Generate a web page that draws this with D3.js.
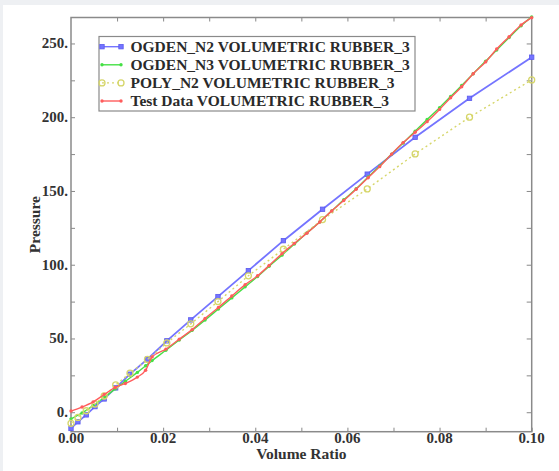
<!DOCTYPE html>
<html>
<head>
<meta charset="utf-8">
<script src="https://cdn.jsdelivr.net/npm/d3@7/dist/d3.min.js"></script>
<style>
  html, body { margin: 0; padding: 0; background: #eef0f3; }
  #chart { width: 559px; height: 471px; }
</style>
</head>
<body>
<div id="chart"></div>
<script>
// Model curves share these volume ratios
var modelX = [0, 0.0015, 0.0033, 0.0052, 0.0072, 0.0097, 0.0128, 0.0166, 0.0208, 0.026, 0.0319, 0.0385, 0.0461, 0.0546, 0.0643, 0.0747, 0.0865, 0.1];
var ogdenN2 = [-11, -6.5, -1.8, 3.8, 9.0, 16.5, 25.8, 36, 48.4, 62.6, 78.4, 96, 116.3, 137.6, 161.4, 186.4, 212.8, 240.7];
var polyN2 = [-7.5, -3.5, 1, 5.5, 11, 18.5, 26.5, 35.8, 47, 59.9, 75, 92.5, 110.5, 130.6, 151.4, 175.1, 200, 225.3];

// Test data points and the N3 fit on the same ratios
var testX = [0, 0.0024, 0.0048, 0.0072, 0.0096, 0.0118, 0.0144, 0.0162, 0.0176, 0.0206, 0.0235, 0.0263, 0.0291, 0.032, 0.0349, 0.0378, 0.0405, 0.043, 0.0458, 0.0485, 0.0512, 0.054, 0.0566, 0.0592, 0.0619, 0.0645, 0.067, 0.0696, 0.0721, 0.0747, 0.0773, 0.08, 0.0824, 0.0848, 0.0873, 0.09, 0.0924, 0.0951, 0.0977, 0.1];
var testData = [0.8, 3.5, 7.0, 12.0, 16.8, 19.5, 23.8, 28.5, 37.5, 42.8, 49.5, 56, 63.6, 71, 78.8, 86.5, 92.5, 99.5, 107.5, 114.5, 121.4, 129, 136.5, 143.5, 151.2, 159, 166.5, 175, 182.8, 189.8, 197, 205.3, 213.2, 220.7, 229.5, 237.5, 246.2, 254.6, 262.5, 267.5];
var ogdenN3 = [-4.5, -0.5, 4.5, 10, 15.8, 21, 27, 31.5, 35, 42, 49, 55.5, 62.5, 70, 77.5, 85, 92, 99, 106.5, 114, 121.5, 129, 136.5, 144, 151.5, 159.5, 167, 175, 182.5, 190.5, 198.5, 206.5, 214, 221.5, 229.5, 238, 245.5, 254, 262, 268];

var seriesNames = ["OGDEN_N2 VOLUMETRIC RUBBER_3", "OGDEN_N3 VOLUMETRIC RUBBER_3", "POLY_N2 VOLUMETRIC RUBBER_3", "Test Data VOLUMETRIC RUBBER_3"];
var xTicks = [0, 0.02, 0.04, 0.06, 0.08, 0.1];
var yTicks = [0, 50, 100, 150, 200, 250];

var series = [
  { name: seriesNames[0], xs: modelX, ys: ogdenN2, color: "#7474ff", dash: null, marker: "square", curve: d3.curveLinear },
  { name: seriesNames[1], xs: testX, ys: ogdenN3, color: "#45e045", dash: null, marker: "dot", curve: d3.curveMonotoneX },
  { name: seriesNames[2], xs: modelX, ys: polyN2, color: "#d6d66a", dash: "2,3", marker: "ring", curve: d3.curveLinear },
  { name: seriesNames[3], xs: testX, ys: testData, color: "#ff5c5c", dash: null, marker: "dot", curve: d3.curveMonotoneX }
];

var W = 559, H = 471;
var L = 71, R = 531.7, T = 17.5, B = 431.7;

var svg = d3.select("#chart")
  .append("svg")
  .attr("width", W)
  .attr("height", H);

// white panel over the grey page
svg.append("rect")
  .attr("x", 3).attr("y", 5)
  .attr("width", W - 3).attr("height", H - 5)
  .style("fill", "#fff");

var x = d3.scaleLinear().domain([0, 0.1]).range([L, R]);
var y = d3.scaleLinear().domain([-13.2, 267.6]).range([B, T]);

var font = "'Liberation Serif', 'Times New Roman', serif";

// inward tick marks on all four sides
var g = svg.append("g");
g.append("g").attr("transform", "translate(0," + B + ")")
  .call(d3.axisBottom(x).tickValues(d3.range(0, 0.1001, 0.01)).tickSize(-4).tickFormat(""));
g.append("g").attr("transform", "translate(0," + T + ")")
  .call(d3.axisTop(x).tickValues(d3.range(0.01, 0.1, 0.01)).tickSize(-4).tickFormat(""));
g.append("g").attr("transform", "translate(" + L + ",0)")
  .call(d3.axisLeft(y).tickValues(d3.range(0, 251, 25)).tickSize(-4).tickFormat(""));
g.append("g").attr("transform", "translate(" + R + ",0)")
  .call(d3.axisRight(y).tickValues(d3.range(0, 251, 25)).tickSize(-5).tickFormat(""));
g.selectAll(".domain").remove();
g.selectAll(".tick line").style("stroke", "#888").style("stroke-width", 1);

// frame
svg.append("rect")
  .attr("x", L).attr("y", T)
  .attr("width", R - L).attr("height", B - T)
  .style("fill", "none")
  .style("stroke", "#8a8a8a")
  .style("stroke-width", 1.5);

// tick labels
svg.selectAll(".ylab")
  .data(yTicks)
  .enter()
  .append("text")
  .attr("x", L - 3)
  .attr("y", function(d) { return y(d) + 5; })
  .attr("text-anchor", "end")
  .style("font-family", font)
  .style("font-weight", "bold")
  .style("font-size", "15px")
  .style("fill", "#333")
  .text(function(d) { return d + "."; });

svg.selectAll(".xlab")
  .data(xTicks)
  .enter()
  .append("text")
  .attr("x", function(d) { return x(d); })
  .attr("y", 443)
  .attr("text-anchor", "middle")
  .style("font-family", font)
  .style("font-weight", "bold")
  .style("font-size", "15px")
  .style("fill", "#333")
  .text(function(d) { return d.toFixed(2); });

// axis titles
svg.append("text")
  .attr("x", (L + R) / 2)
  .attr("y", 459)
  .attr("text-anchor", "middle")
  .style("font-family", font)
  .style("font-weight", "bold")
  .style("font-size", "15.5px")
  .style("fill", "#333")
  .text("Volume Ratio");

svg.append("text")
  .attr("transform", "translate(40," + ((T + B) / 2) + ") rotate(-90)")
  .attr("text-anchor", "middle")
  .style("font-family", font)
  .style("font-weight", "bold")
  .style("font-size", "15.5px")
  .style("fill", "#333")
  .text("Pressure");

function drawMarker(sel, s, cx, cy) {
  if (s.marker === "square") {
    sel.append("rect")
      .attr("x", cx - 2.2).attr("y", cy - 2.2)
      .attr("width", 4.4).attr("height", 4.4)
      .style("fill", s.color).style("stroke", "#5a5aee").style("stroke-width", 0.8);
  } else if (s.marker === "ring") {
    sel.append("circle")
      .attr("cx", cx).attr("cy", cy).attr("r", 3)
      .style("fill", "none").style("stroke", s.color).style("stroke-width", 1.3);
  } else {
    sel.append("circle")
      .attr("cx", cx).attr("cy", cy).attr("r", 1.7)
      .style("fill", s.color);
  }
}

// curves
var plot = svg.append("g");
series.forEach(function(s) {
  var pts = s.xs.map(function(v, i) { return [v, s.ys[i]]; });
  var line = d3.line()
    .x(function(d) { return x(d[0]); })
    .y(function(d) { return y(d[1]); })
    .curve(s.curve);
  plot.append("path")
    .datum(pts)
    .attr("d", line)
    .style("fill", "none")
    .style("stroke", s.color)
    .style("stroke-width", s.marker === "square" ? 1.8 : 1.4)
    .style("stroke-dasharray", s.dash);
  var mg = plot.append("g");
  pts.forEach(function(d) { drawMarker(mg, s, x(d[0]), y(d[1])); });
});

// legend
var legend = svg.append("g");
legend.append("rect")
  .attr("x", 99).attr("y", 36.5)
  .attr("width", 316).attr("height", 74.5)
  .style("fill", "#fff")
  .style("stroke", "#8a8a8a")
  .style("stroke-width", 1.2);

series.forEach(function(s, i) {
  var cy = 46.7 + i * 18.1;
  legend.append("line")
    .attr("x1", 102).attr("x2", 121)
    .attr("y1", cy).attr("y2", cy)
    .style("stroke", s.color)
    .style("stroke-width", 1.4)
    .style("stroke-dasharray", s.dash);
  drawMarker(legend, s, 102, cy);
  drawMarker(legend, s, 121, cy);
  legend.append("text")
    .attr("x", 130.5)
    .attr("y", cy + 5)
    .style("font-family", font)
    .style("font-weight", "bold")
    .style("font-size", "15.5px")
    .style("fill", "#2a2a2a")
    .text(s.name);
});
</script>
</body>
</html>
